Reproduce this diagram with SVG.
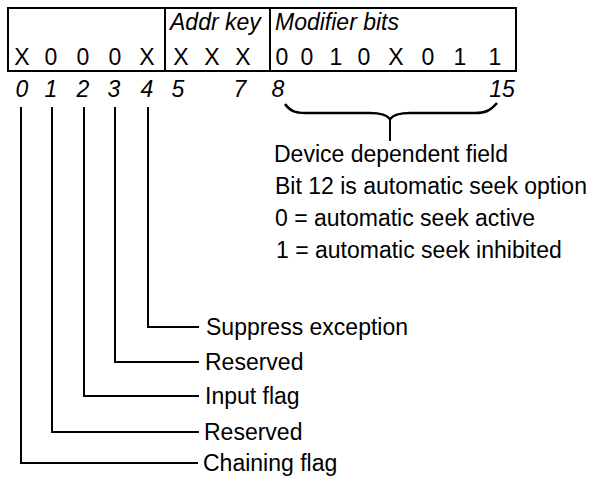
<svg xmlns="http://www.w3.org/2000/svg" width="608" height="481" viewBox="0 0 608 481">
<style>
text{font-family:"Liberation Sans",Arial,sans-serif;font-size:23px;fill:#000}
.i{font-style:italic}
.c{text-anchor:middle}
.ln{fill:none;stroke:#000;stroke-width:2}
</style>
<rect width="608" height="481" fill="#fff"/>
<g id="register">
<rect class="ln" x="8" y="8" width="508" height="63"/>
<line class="ln" x1="165" y1="8" x2="165" y2="71"/>
<line class="ln" x1="270" y1="8" x2="270" y2="71"/>
<text class="i" x="170" y="30">Addr key</text>
<text class="i" x="275" y="30">Modifier bits</text>
<g class="c">
<text class="c" x="22" y="65">X</text>
<text class="c" x="51" y="65">0</text>
<text class="c" x="83" y="65">0</text>
<text class="c" x="115" y="65">0</text>
<text class="c" x="147" y="65">X</text>
<text class="c" x="181" y="65">X</text>
<text class="c" x="212" y="65">X</text>
<text class="c" x="243" y="65">X</text>
<text class="c" x="282" y="65">0</text>
<text class="c" x="307" y="65">0</text>
<text class="c" x="336" y="65">1</text>
<text class="c" x="364" y="65">0</text>
<text class="c" x="396" y="65">X</text>
<text class="c" x="428" y="65">0</text>
<text class="c" x="460" y="65">1</text>
<text class="c" x="495" y="65">1</text>
</g>
</g>
<g id="bitnumbers">
<text class="i c" x="22" y="97">0</text>
<text class="i c" x="51" y="97">1</text>
<text class="i c" x="83" y="97">2</text>
<text class="i c" x="114" y="97">3</text>
<text class="i c" x="147" y="97">4</text>
<text class="i c" x="178" y="97">5</text>
<text class="i c" x="240" y="97">7</text>
<text class="i c" x="278" y="97">8</text>
<text class="i c" x="502" y="97">15</text>
</g>
<g id="connectors">
<path class="ln" d="M148 107V327H199"/>
<path class="ln" d="M115 107V362H199"/>
<path class="ln" d="M84 107V396H199"/>
<path class="ln" d="M52 107V432H199"/>
<path class="ln" d="M21 107V463H198"/>
<path d="M285 104C290 111 295 113 305 113L370 113C382 113 387 115 390 119C393 115 398 113 410 113L475 113C485 113 490 111 497 103" fill="none" stroke="#000" stroke-width="2.6"/>
<line class="ln" x1="390" y1="118" x2="390" y2="141"/>
</g>
<g id="device-field">
<text x="274" y="162">Device dependent field</text>
<text x="275" y="194">Bit 12 is automatic seek option</text>
<text x="275" y="226">0 = automatic seek active</text>
<text x="276" y="258">1 = automatic seek inhibited</text>
</g>
<g id="bit4"><text x="206" y="335">Suppress exception</text></g>
<g id="bit3"><text x="205" y="370">Reserved</text></g>
<g id="bit2"><text x="205" y="404">Input flag</text></g>
<g id="bit1"><text x="204" y="440">Reserved</text></g>
<g id="bit0"><text x="203" y="471">Chaining flag</text></g>
</svg>
